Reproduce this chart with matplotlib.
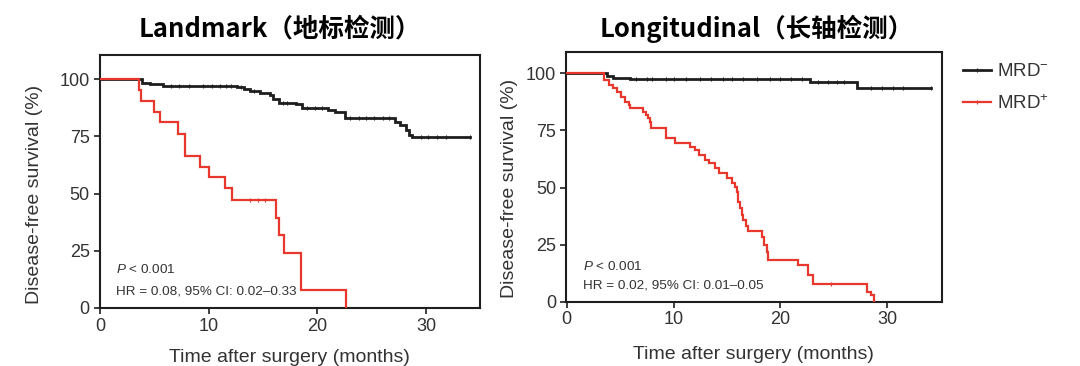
import numpy as np
import matplotlib
matplotlib.use("Agg")
import matplotlib.pyplot as plt
from matplotlib.lines import Line2D

plt.rcParams['font.family'] = ['Liberation Sans', 'DejaVu Sans']
plt.rcParams['mathtext.fontset'] = 'custom'
plt.rcParams['mathtext.rm'] = 'Liberation Sans'
plt.rcParams['mathtext.it'] = 'Liberation Sans:italic'

# ---------------- data ----------------
titles = ["Landmark（地标检测）", "Longitudinal（长轴检测）"]
group_labels = ["MRD$^{-}$", "MRD$^{+}$"]
x_ticks = [0, 10, 20, 30]
y_ticks = [0, 25, 50, 75, 100]
stats_p = ["$P$ < 0.001", "$P$ < 0.001"]
stats_hr = ["HR = 0.08, 95% CI: 0.02–0.33", "HR = 0.02, 95% CI: 0.01–0.05"]

# Landmark, MRD-
lm_neg_t = [0, 3.9, 4.6, 5.8, 12.6, 13.2, 13.8, 14.7, 15.6, 15.9, 16.5, 18.0, 18.6,
            21.0, 21.6, 22.5, 27.1, 27.6, 28.1, 28.4, 28.7]
lm_neg_s = [100, 98.1, 97.7, 97.1, 96.4, 95.5, 94.9, 94.0, 93.0, 91.1, 89.7, 88.9, 87.2,
            86.5, 85.7, 83.1, 81.4, 79.9, 77.7, 75.5, 74.8]
lm_neg_end = 34.0
lm_neg_cens = [6.5, 7.3, 8.2, 9.5, 10.3, 11.0, 11.6, 12.0, 13.0, 14.2, 16.8, 17.2, 19.0,
               19.8, 20.4, 23.0, 23.8, 24.5, 25.2, 26.0, 26.6, 29.5, 30.2, 31.0, 31.8, 34.0]

# Landmark, MRD+
lm_pos_t = [0, 3.62, 3.77, 5.0, 5.52, 7.2, 7.82, 9.2, 10.06, 11.5, 12.1, 16.2, 16.5,
            16.9, 18.5, 22.6]
lm_pos_s = [100, 95.2, 90.5, 85.7, 81.4, 76.0, 66.5, 61.7, 57.3, 52.3, 47.2, 39.2, 31.9,
            23.9, 7.9, 0]
lm_pos_end = 22.6
lm_pos_cens = [13.8, 14.5, 15.2]

# Longitudinal, MRD-
lo_neg_t = [0, 3.74, 4.36, 5.9, 22.8, 27.2]
lo_neg_s = [100, 98.9, 98.1, 97.5, 96.3, 93.4]
lo_neg_end = 34.1
lo_neg_cens = [6.5, 7.5, 8.0, 9.3, 10.0, 11.2, 12.5, 13.5, 14.6, 15.5, 16.5, 17.8, 19.0,
               20.0, 21.0, 22.0, 23.5, 24.5, 25.3, 26.0, 28.5, 29.5, 30.5, 31.5, 34.1]

# Longitudinal, MRD+
lo_pos_t = [0, 3.5, 4.0, 4.36, 4.67, 5.05, 5.45, 5.83, 5.92, 7.11, 7.42, 7.64, 7.79, 7.85,
            9.29, 10.13, 11.53, 12.0, 12.41, 12.94, 13.34, 13.87, 14.28, 14.96, 15.49,
            15.74, 15.9, 16.06, 16.21, 16.37, 16.52, 16.77, 16.99, 18.3, 18.46, 18.71,
            18.86, 21.66, 22.6, 23.07, 28.12, 28.5, 28.75]
lo_pos_s = [100, 97.1, 94.9, 93.4, 92.0, 89.8, 87.6, 86.2, 84.7, 83.3, 81.8, 80.3, 78.9,
            76.0, 71.6, 69.4, 67.9, 66.5, 64.3, 62.1, 60.6, 58.4, 56.2, 54.0, 51.8, 50.3,
            48.2, 43.8, 40.9, 37.9, 35.8, 33.3, 31.1, 28.5, 24.8, 21.9, 18.3, 16.2, 11.8,
            7.8, 4.4, 3.0, 0]
lo_pos_end = 28.75
lo_pos_cens = [24.7]

panels = [
    dict(neg=(lm_neg_t, lm_neg_s, lm_neg_end, lm_neg_cens),
         pos=(lm_pos_t, lm_pos_s, lm_pos_end, lm_pos_cens)),
    dict(neg=(lo_neg_t, lo_neg_s, lo_neg_end, lo_neg_cens),
         pos=(lo_pos_t, lo_pos_s, lo_pos_end, lo_pos_cens)),
]

# ---------------- style ----------------
BLACK = '#1e1e1e'
RED = '#e8372c'
TXT = '#333333'

W, H = 1080, 366
fig = plt.figure(figsize=(W / 100, H / 100), dpi=100)

def fr(x0, y0, x1, y1):
    return [x0 / W, 1 - y1 / H, (x1 - x0) / W, (y1 - y0) / H]

ax_rects = [fr(99.5, 55, 480, 308), fr(565.7, 51.7, 941.7, 301.7)]
xlims = [(-0.05, 34.95), (-0.1, 35.1)]
ylims = [(0, 110.5), (0, 109.5)]
title_x = [280, 757]
stat_pos = [((1.5, 16.6), (1.5, 7.0)), ((1.5, 15.2), (1.5, 7.3))]
ylabel_xy = [(-0.148, 0.447), (-0.128, 0.455)]
xlabel_pad = [10, 12.5]


def km(ax, t, s, end, cens, color, lw):
    tt = list(t) + [end]
    ss = list(s) + [s[-1]]
    ax.step(tt, ss, where='post', color=color, lw=lw, solid_joinstyle='miter',
            zorder=3)
    ct = np.asarray(cens)
    idx = np.searchsorted(np.asarray(t), ct, side='right') - 1
    cy = np.asarray(s)[idx]
    ax.plot(ct, cy, ls='none', marker='|', ms=3.0, mew=0.8, color=color, zorder=4)


for i, p in enumerate(panels):
    ax = fig.add_axes(ax_rects[i])
    km(ax, *p['neg'], BLACK, 2.0)
    km(ax, *p['pos'], RED, 1.6)
    ax.set_xlim(*xlims[i])
    ax.set_ylim(*ylims[i])
    ax.set_xticks(x_ticks)
    ax.set_yticks(y_ticks)
    ax.tick_params(direction='out', length=4, width=1.2, colors=BLACK,
                   labelcolor=TXT, labelsize=13, pad=3)
    for sp in ax.spines.values():
        sp.set_color(BLACK)
        sp.set_linewidth(1.5)
    ax.set_xlabel("Time after surgery (months)", fontsize=14, color=TXT,
                  labelpad=xlabel_pad[i])
    ax.set_ylabel("Disease-free survival (%)", fontsize=14, color=TXT)
    ax.yaxis.set_label_coords(*ylabel_xy[i])
    (px, py), (hx, hy) = stat_pos[i]
    ax.text(px, py, stats_p[i], fontsize=9.7, color=TXT, va='center', ha='left')
    ax.text(hx, hy, stats_hr[i], fontsize=9.7, color=TXT, va='center', ha='left')
    fig.text(title_x[i] / W, 1 - 29 / H, titles[i], ha='center', va='center',
             fontsize=18.4, fontweight='bold', color='black',
             family=['Noto Sans CJK SC', 'DejaVu Sans'])

handles = [Line2D([], [], color=BLACK, lw=2.0, marker='|', ms=3.0, mew=0.8),
           Line2D([], [], color=RED, lw=1.6, marker='|', ms=3.0, mew=0.8)]
fig.legend(handles, group_labels, loc='upper left', bbox_to_anchor=(963 / W, 1 - 63 / H),
           frameon=False, fontsize=13.5, handlelength=1.5, handletextpad=0.3,
           labelspacing=0.75, labelcolor=TXT, borderaxespad=0, borderpad=0)

fig.savefig("out.png", dpi=100)
